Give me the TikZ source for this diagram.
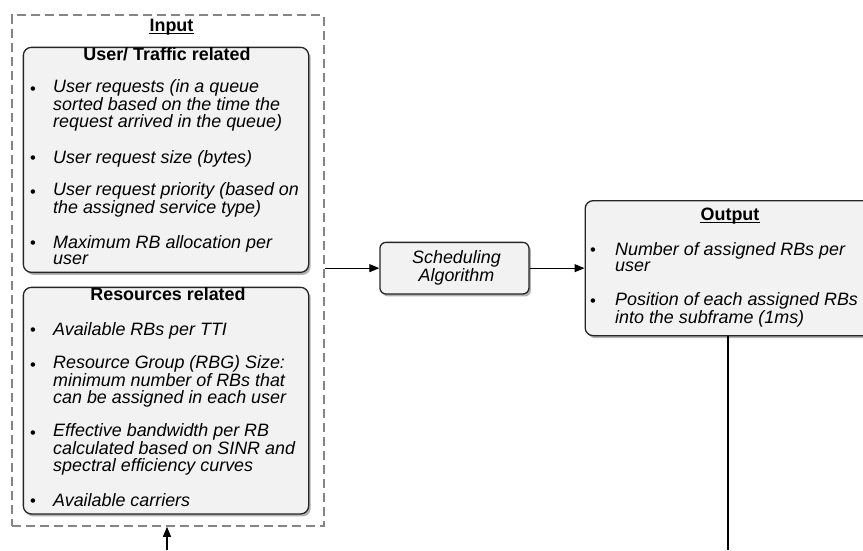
\documentclass[tikz,border=0pt]{standalone}
\usepackage{fontspec}
\setmainfont{Liberation Sans}
\usetikzlibrary{arrows.meta,shadows}
\newcommand\txtsize{\fontsize{17.9}{16.5}\selectfont}
\definecolor{boxfill}{HTML}{F2F2F2}
\definecolor{dashgray}{HTML}{858585}

\begin{document}
\begin{tikzpicture}[x=1pt,y=-1pt,
  panel/.style={draw=black!85, line width=1.3pt, fill=boxfill, rounded corners=8pt,
    inner sep=0pt, anchor=north west,
    drop shadow={shadow xshift=2pt, shadow yshift=-2.5pt, opacity=0.3, fill=black}},
  group/.style={draw=dashgray, line width=1.8pt, dash pattern=on 9pt off 5pt,
    inner sep=0pt, anchor=north west},
  heading/.style={font=\bfseries\txtsize, inner sep=0pt, anchor=base},
  % multi-line items are placed by the baseline of their last line
  itm/.style={font=\itshape\txtsize, inner sep=0pt, anchor=base west, align=left},
  bul/.style={font=\fontsize{16.5}{16.5}\selectfont, inner sep=0pt, anchor=base},
  conn/.style={line width=1.2pt, -{Triangle[length=10pt,width=8pt]}}
]
\useasboundingbox (0,0) rectangle (863,550);

% input group and its two panels
\node[group, minimum width=311.7pt, minimum height=511pt] (inp) at (11,14) {};
\node[heading] (inptitle) at (171.5,31) {Input};
\draw[line width=1pt] ([yshift=-2pt]inptitle.base west) -- ([yshift=-2pt]inptitle.base east);

\node[panel, minimum width=285.3pt, minimum height=225pt] (user) at (22.7,46.7) {};
\node[heading] (usertitle) at (167,60) {User/ Traffic related};
\node[bul] (ub1) at (33,94) {•};
\node[itm] (ui1) at (53,127) {User requests (in a queue\\sorted based on the time the\\request arrived in the queue)};
\node[bul] (ub2) at (33,163) {•};
\node[itm] (ui2) at (53,163) {User request size (bytes)};
\node[bul] (ub3) at (33,197) {•};
\node[itm] (ui3) at (53,213.5) {User request priority (based on\\the assigned service type)};
\node[bul] (ub4) at (33,248) {•};
\node[itm] (ui4) at (53,264.5) {Maximum RB allocation per\\user};

\node[panel, minimum width=285.3pt, minimum height=226.6pt] (res) at (22.7,286.7) {};
\node[heading] (restitle) at (168,300.7) {Resources related};
\node[bul] (rb1) at (33,335) {•};
\node[itm] (ri1) at (53,335) {Available RBs per TTI};
\node[bul] (rb2) at (33,370) {•};
\node[itm] (ri2) at (53,403) {Resource Group (RBG) Size:\\minimum number of RBs that\\can be assigned in each user};
\node[bul] (rb3) at (33,438) {•};
\node[itm] (ri3) at (53,471) {Effective bandwidth per RB\\calculated based on SINR and\\spectral efficiency curves};
\node[bul] (rb4) at (33,506.7) {•};
\node[itm] (ri4) at (53,506.7) {Available carriers};

% scheduler
\node[panel, rounded corners=6pt, minimum width=149pt, minimum height=51.6pt] (sched) at (379.3,241.7) {};
\node[font=\itshape\txtsize, align=center, inner sep=0pt] (schedtxt) at ([xshift=2pt]sched.center) {Scheduling\\Algorithm};

% output panel
\node[panel, minimum width=291.5pt, minimum height=135pt] (out) at (584.5,200) {};
\node[heading] (outtitle) at (730,220) {Output};
\draw[line width=1pt] ([yshift=-2pt]outtitle.base west) -- ([yshift=-2pt]outtitle.base east);
\node[bul] (ob1) at (593,255) {•};
\node[itm] (oi1) at (615,271.5) {Number of assigned RBs per\\user};
\node[bul] (ob2) at (593,306.7) {•};
\node[itm] (oi2) at (615,323.2) {Position of each assigned RBs\\into the subframe (1ms)};

% connectors
\coordinate (feedin) at (167,550);
\coordinate (feedout) at (728,550);
\draw[conn] (sched.west -| inp.east) -- (sched.west);
\draw[conn] (sched.east) -- (sched.east -| out.west);
\draw[conn] (feedin) -- (feedin |- inp.south);
\draw[line width=1.2pt] (feedout |- out.south) -- (feedout);
\end{tikzpicture}
\end{document}
